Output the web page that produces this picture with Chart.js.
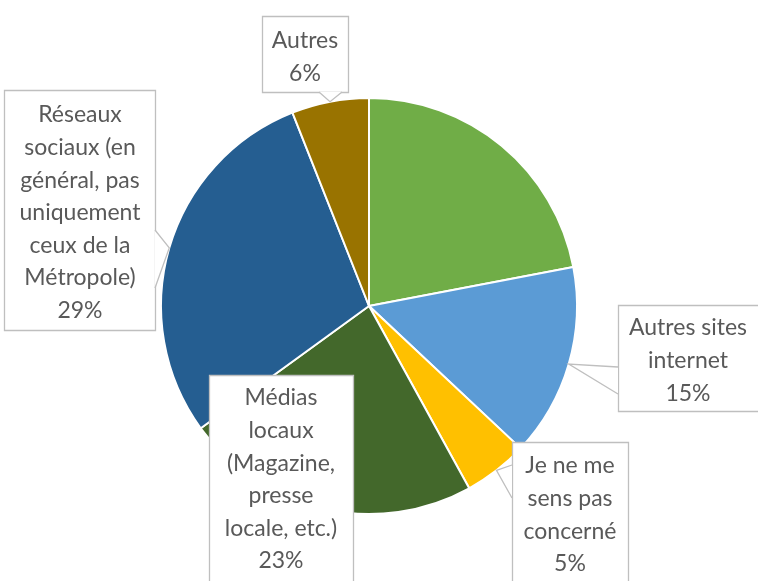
<!DOCTYPE html>
<html>
<head>
<meta charset="utf-8">
<script src="https://cdn.jsdelivr.net/npm/chart.js@4"></script>
<style>
  html, body { margin: 0; padding: 0; background: #ffffff; }
  #wrap { width: 758px; height: 581px; position: relative; }
</style>
</head>
<body>
<div id="wrap"><canvas id="c" width="758" height="581"></canvas></div>
<script>
// ---- data ----
const categories = [
  "",
  "Autres sites internet",
  "Je ne me sens pas concerné",
  "Médias locaux (Magazine, presse locale, etc.)",
  "Réseaux sociaux (en général, pas uniquement ceux de la Métropole)",
  "Autres"
];
const values = [22, 15, 5, 23, 29, 6];
const labelLines = [
  null,
  ["Autres sites", "internet", "15%"],
  ["Je ne me", "sens pas", "concerné", "5%"],
  ["Médias", "locaux", "(Magazine,", "presse", "locale, etc.)", "23%"],
  ["Réseaux", "sociaux (en", "général, pas", "uniquement", "ceux de la", "Métropole)", "29%"],
  ["Autres", "6%"]
];
const colors = ["#70AD47", "#5B9BD5", "#FFC000", "#43682B", "#255E91", "#997300"];

// ---- callout box layout (pixels in canvas) ----
const boxes = [
  null,
  { x: 618, y: 305, w: 150, h: 106, cx: 688, firstLine: 23, wedge: [[618, 367], [618, 394]] },
  { x: 512, y: 442, w: 116, h: 160, cx: 570, firstLine: 24, wedge: [[512, 465], [512, 498]] },
  { x: 209, y: 375, w: 144, h: 230, cx: 281, firstLine: 23, wedge: null },
  { x: 4,   y: 90,  w: 151, h: 240, cx: 80,  firstLine: 25, wedge: [[155, 230], [155, 288]] },
  { x: 262, y: 16,  w: 86,  h: 76,  cx: 305, firstLine: 25, wedge: [[319, 92], [342, 92]] }
];
const lineHeight = 32.6;

const calloutPlugin = {
  id: 'callouts',
  afterDatasetsDraw(chart) {
    const ctx = chart.ctx;
    const meta = chart.getDatasetMeta(0);
    meta.data.forEach((arc, i) => {
      const b = boxes[i];
      const lines = labelLines[i];
      if (!b || !lines) return;
      const p = arc.getProps(['x', 'y', 'startAngle', 'endAngle', 'outerRadius'], true);
      const mid = (p.startAngle + p.endAngle) / 2;
      const tip = [p.x + Math.cos(mid) * p.outerRadius, p.y + Math.sin(mid) * p.outerRadius];
      ctx.save();
      ctx.lineWidth = 1.3;
      ctx.strokeStyle = '#BFBFBF';
      ctx.fillStyle = '#FFFFFF';
      ctx.beginPath();
      ctx.rect(b.x + 0.5, b.y + 0.5, b.w, b.h);
      ctx.fill();
      ctx.stroke();
      if (b.wedge) {
        ctx.beginPath();
        ctx.moveTo(b.wedge[0][0], b.wedge[0][1]);
        ctx.lineTo(tip[0], tip[1]);
        ctx.lineTo(b.wedge[1][0], b.wedge[1][1]);
        ctx.closePath();
        ctx.fill();
        ctx.beginPath();
        ctx.moveTo(b.wedge[0][0], b.wedge[0][1]);
        ctx.lineTo(tip[0], tip[1]);
        ctx.lineTo(b.wedge[1][0], b.wedge[1][1]);
        ctx.stroke();
      }
      ctx.fillStyle = '#595959';
      ctx.font = '23px Lato, "Liberation Sans", sans-serif';
      ctx.textAlign = 'center';
      ctx.textBaseline = 'middle';
      lines.forEach((t, k) => {
        ctx.fillText(t, b.cx, b.y + b.firstLine + k * lineHeight);
      });
      ctx.restore();
    });
  }
};

new Chart(document.getElementById('c'), {
  type: 'pie',
  data: {
    labels: categories,
    datasets: [{
      data: values,
      backgroundColor: colors,
      borderColor: '#FFFFFF',
      borderWidth: 2
    }]
  },
  options: {
    responsive: false,
    animation: false,
    rotation: 0,
    layout: { padding: { top: 97, bottom: 66, left: 160, right: 180 } },
    plugins: {
      legend: { display: false },
      tooltip: { enabled: false },
      title: { display: false }
    }
  },
  plugins: [calloutPlugin]
});
</script>
</body>
</html>
